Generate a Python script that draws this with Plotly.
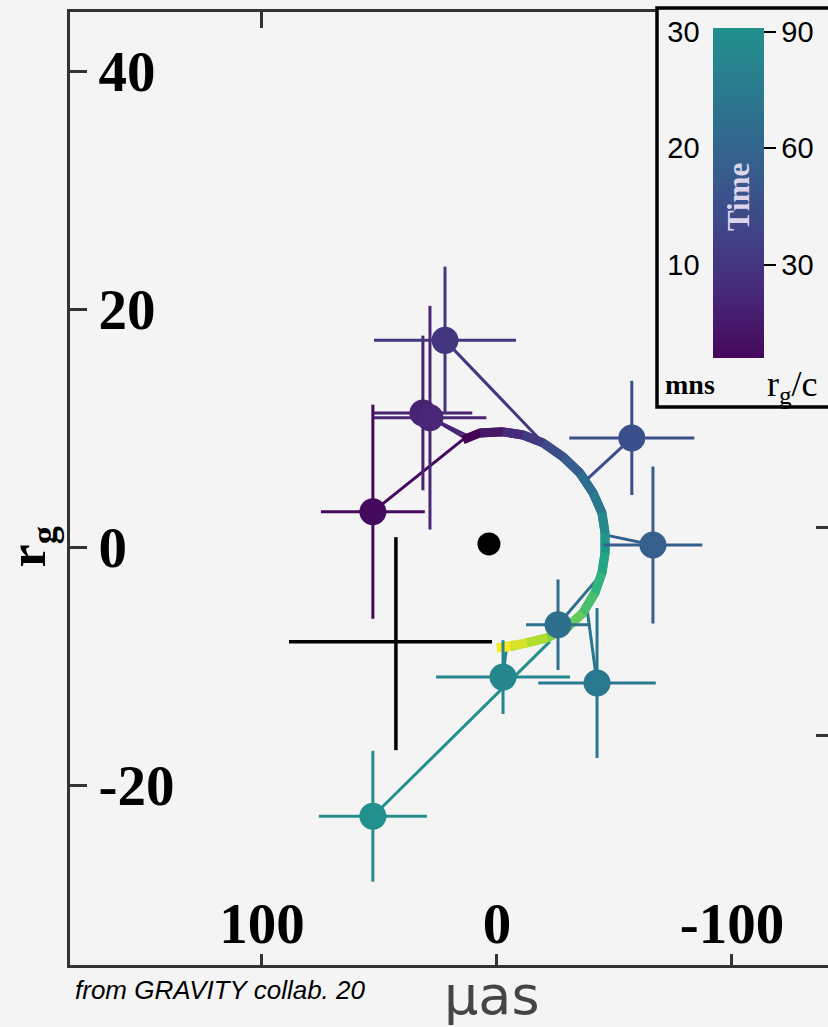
import plotly.graph_objects as go
from plotly.colors import sample_colorscale

# ---------------- data ----------------
# astrometric points (x in micro-arcsec, y in r_g)
pt_x = [52.8, 31.5, 28.5, 22.1, -57.4, -66.4, -26.0, -42.6, -2.6, 52.8]
pt_y = [3.0, 11.3, 10.9, 17.4, 9.2, 0.2, -6.5, -11.4, -10.9, -22.6]
pt_ex = [22.1, 21.0, 24.0, 30.2, 26.6, 21.0, 13.6, 25.0, 28.5, 23.0]
pt_ey = [9.0, 6.5, 9.4, 6.2, 4.8, 6.6, 3.8, 6.3, 3.1, 5.5]
pt_time = [1.6, 5.5, 6.5, 9.3, 14.7, 18.0, 21.8, 24.0, 27.8, 30.0]  # minutes
# model positions at the same times (end of the residual lines)
mod_x = [13.6, 13.6, 11.5, -19.6, -36.6, -46.0, -45.1, -38.3, -4.3, -22.6]
mod_y = [9.2, 9.2, 9.3, 8.8, 5.4, 1.05, -2.1, -5.1, -8.0, -7.9]

# model orbit (arc)
arc_x = [14.5, 7.2, -2.6, -11.1, -19.6, -28.1, -35.3, -40.9, -44.7, -46.0,
         -46.0, -44.7, -41.7, -36.6, -29.8, -21.3, -12.8, -5.5, 0.0]
arc_y = [9.03, 9.62, 9.71, 9.45, 8.78, 7.61, 6.26, 4.58, 2.90, 1.22,
         -0.46, -2.14, -3.82, -5.50, -6.76, -7.61, -8.03, -8.36, -8.45]

# black cross (asymmetric error bars) and central black dot
cross_x = [43.0]
cross_y = [-7.94]
cross_ex_plus = [45.5]
cross_ex_minus = [40.9]
cross_ey_plus = [8.8]
cross_ey_minus = [9.1]
bh_x = [3.4]
bh_y = [0.29]

# axes
x_ticks = [100, 0, -100]
x_ticklabels = ["100", "0", "-100"]
y_ticks = [40, 20, 0, -20]
y_ticklabels = ["40", "20", "0", "-20"]
top_ticks = [100]
right_ticks = [1.7, -15.8]

# colour bar (time)
cb_ticks = [10, 20, 30]
cb_min_labels = ["10", "20", "30"]
cb_rg_labels = ["30", "60", "90"]
cb_range = [2.0, 30.3]

VIR_MAX = 0.5  # fraction of viridis reached at 30 min


def pt_color(t):
    return sample_colorscale("Viridis", [min(t / 30.0 * VIR_MAX, 1.0)])[0]


BG = "#f4f4f4"
fig = go.Figure()

# residual lines from data to model
for i in range(len(pt_x)):
    fig.add_trace(go.Scatter(
        x=[pt_x[i], mod_x[i]], y=[pt_y[i], mod_y[i]], mode="lines",
        line=dict(color=pt_color(pt_time[i]), width=3),
        showlegend=False, hoverinfo="skip"))

# model arc with viridis gradient (overlapping pieces so joints stay closed)
n = len(arc_x)
for i in range(n - 1):
    c = sample_colorscale("Viridis", [i / (n - 2)])[0]
    fig.add_trace(go.Scatter(
        x=arc_x[i:i + 3], y=arc_y[i:i + 3], mode="lines",
        line=dict(color=c, width=9),
        showlegend=False, hoverinfo="skip"))

# data points with error bars
for i in range(len(pt_x)):
    c = pt_color(pt_time[i])
    fig.add_trace(go.Scatter(
        x=[pt_x[i]], y=[pt_y[i]], mode="markers",
        marker=dict(color=c, size=27, line=dict(width=0)),
        error_x=dict(type="data", array=[pt_ex[i]], color=c, thickness=3, width=0),
        error_y=dict(type="data", array=[pt_ey[i]], color=c, thickness=3, width=0),
        showlegend=False, hoverinfo="skip"))

# black cross
fig.add_trace(go.Scatter(
    x=cross_x, y=cross_y, mode="markers",
    marker=dict(color="black", size=1, opacity=0),
    error_x=dict(type="data", symmetric=False, array=cross_ex_plus,
                 arrayminus=cross_ex_minus, color="black", thickness=3.5, width=0),
    error_y=dict(type="data", symmetric=False, array=cross_ey_plus,
                 arrayminus=cross_ey_minus, color="black", thickness=3.5, width=0),
    showlegend=False, hoverinfo="skip"))

# black hole dot
fig.add_trace(go.Scatter(x=bh_x, y=bh_y, mode="markers",
                         marker=dict(color="black", size=23),
                         showlegend=False, hoverinfo="skip"))

# colour bars (dummy traces)
cb_scale = [[k / 10, sample_colorscale("Viridis", [0.02 + (VIR_MAX - 0.02) * k / 10])[0]]
            for k in range(11)]
cbfont = dict(family="Liberation Sans", size=29, color="black")
fig.add_trace(go.Scatter(
    x=[None], y=[None], mode="markers",
    marker=dict(color=[cb_range[0]], colorscale=cb_scale, cmin=cb_range[0],
                cmax=cb_range[1], showscale=True,
                colorbar=dict(x=(713 - 70) / 758, xanchor="left", xpad=0,
                              y=(965 - 193) / 953, yanchor="middle", ypad=0,
                              thickness=51, thicknessmode="pixels",
                              len=330, lenmode="pixels", outlinewidth=0,
                              tickvals=cb_ticks, ticktext=cb_rg_labels,
                              ticks="outside", ticklen=12, tickwidth=2,
                              tickcolor="black", tickfont=cbfont)),
    showlegend=False, hoverinfo="skip"))
fig.add_trace(go.Scatter(
    x=[None], y=[None], mode="markers",
    marker=dict(color=[cb_range[0]],
                colorscale=[[0, "rgba(0,0,0,0)"], [1, "rgba(0,0,0,0)"]],
                cmin=cb_range[0], cmax=cb_range[1], showscale=True,
                colorbar=dict(x=(660 - 70) / 758, xanchor="left", xpad=0,
                              y=(965 - 193) / 953, yanchor="middle", ypad=0,
                              thickness=1, thicknessmode="pixels",
                              len=330, lenmode="pixels", outlinewidth=0,
                              tickvals=cb_ticks, ticktext=cb_min_labels,
                              ticks="", tickfont=cbfont)),
    showlegend=False, hoverinfo="skip"))

# dummy traces for extra axes
fig.add_trace(go.Scatter(x=[None], y=[None], xaxis="x2", yaxis="y",
                         showlegend=False, hoverinfo="skip"))
fig.add_trace(go.Scatter(x=[None], y=[None], xaxis="x", yaxis="y2",
                         showlegend=False, hoverinfo="skip"))

XR = [181.7, -140.9]
YR = [-35.1, 45.0]
tickfont = dict(family="Liberation Serif", size=57, color="black", weight="bold")
fig.update_layout(
    width=828, height=1027,
    margin=dict(l=70, r=0, t=12, b=62),
    paper_bgcolor=BG, plot_bgcolor=BG,
    xaxis=dict(range=XR, showline=True, linecolor="#333", linewidth=3,
               mirror=True, ticks="inside", ticklen=11, tickwidth=2.5,
               tickcolor="#333", tickvals=x_ticks, ticktext=x_ticklabels,
               ticklabelposition="inside", ticklabelstandoff=8, tickfont=tickfont,
               showgrid=False, zeroline=False),
    yaxis=dict(range=YR, showline=True, linecolor="#333", linewidth=3,
               mirror=False, ticks="inside", ticklen=17, tickwidth=2.5,
               tickcolor="#333", tickvals=y_ticks, ticktext=y_ticklabels,
               ticklabelposition="inside", ticklabelstandoff=20, tickfont=tickfont,
               showgrid=False, zeroline=False),
    xaxis2=dict(range=XR, overlaying="x", side="top", anchor="y",
                showline=False, ticks="inside", ticklen=16, tickwidth=2.5,
                tickcolor="#333", tickvals=top_ticks, showticklabels=False,
                showgrid=False, zeroline=False),
    yaxis2=dict(range=YR, overlaying="y", side="right", anchor="x",
                showline=False, ticks="inside", ticklen=12, tickwidth=2.5,
                tickcolor="#333", tickvals=right_ticks, showticklabels=False,
                showgrid=False, zeroline=False),
    shapes=[dict(type="rect", xref="paper", yref="paper",
                 x0=(657 - 70) / 758, x1=1.05,
                 y0=(965 - 407) / 953, y1=(965 - 8) / 953,
                 line=dict(color="black", width=3.5), fillcolor=BG,
                 layer="above")],
    annotations=[
        dict(text="r<sub>g</sub>", xref="paper", yref="y", x=(31 - 70) / 758, y=0,
             textangle=-90, showarrow=False, xanchor="center", yanchor="middle",
             font=dict(family="Liberation Serif", size=52, color="black",
                       weight="bold")),
        dict(text="\u03bcas", xref="x", yref="paper", x=2.0, y=(965 - 995) / 953,
             showarrow=False, xanchor="center", yanchor="middle",
             font=dict(family="DejaVu Sans", size=54, color="#454545")),
        dict(text="from GRAVITY collab. 20", xref="paper", yref="paper",
             x=(73 - 70) / 758, y=(965 - 990) / 953, showarrow=False,
             xanchor="left", yanchor="middle",
             font=dict(family="Liberation Sans Narrow, Liberation Sans", size=26,
                       color="black", style="italic")),
        dict(text="Time", xref="paper", yref="paper",
             x=(739 - 70) / 758, y=(965 - 197) / 953, textangle=-90,
             showarrow=False, xanchor="center", yanchor="middle",
             font=dict(family="Liberation Serif", size=31, color="#ddd5ec",
                       weight="bold")),
        dict(text="mns", xref="paper", yref="paper",
             x=(690 - 70) / 758, y=(965 - 384) / 953, showarrow=False,
             xanchor="center", yanchor="middle",
             font=dict(family="Liberation Serif", size=28, color="black",
                       weight="bold")),
        dict(text="r<sub>g</sub>/c", xref="paper", yref="paper",
             x=(792 - 70) / 758, y=(965 - 386) / 953, showarrow=False,
             xanchor="center", yanchor="middle",
             font=dict(family="Liberation Serif", size=36, color="black")),
    ],
)

fig.write_html("out.html",
               config={"displayModeBar": False},
               post_script="document.body.style.margin='0px';"
                           "document.body.style.overflow='hidden';")
